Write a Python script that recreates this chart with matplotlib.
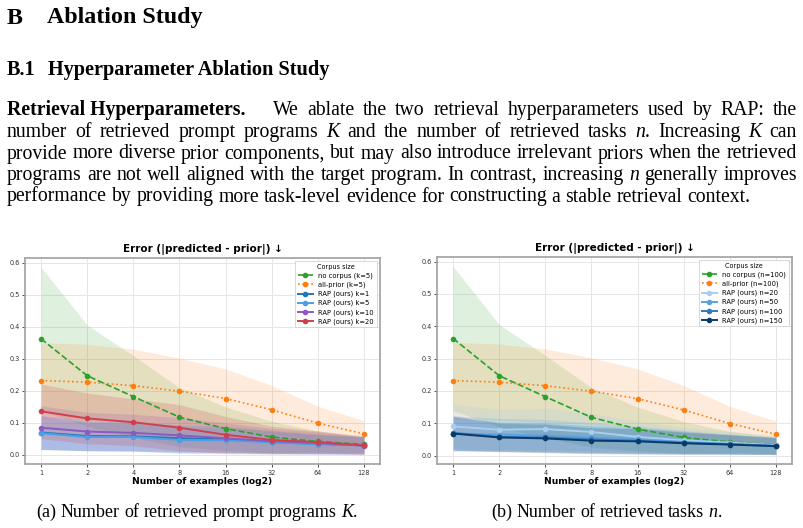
import re
import numpy as np
import matplotlib
matplotlib.use("Agg")
import matplotlib.pyplot as plt

# ---------------- data ----------------
examples = [1, 2, 4, 8, 16, 32, 64, 128]

nocorpus_mean = [0.362, 0.247, 0.182, 0.118, 0.082, 0.056, 0.042, 0.033]
nocorpus_std = [0.223, 0.158, 0.128, 0.092, 0.068, 0.049, 0.033, 0.027]
allprior_mean = [0.232, 0.227, 0.216, 0.199, 0.176, 0.141, 0.099, 0.066]
allprior_std = [0.118, 0.118, 0.114, 0.103, 0.092, 0.076, 0.053, 0.041]

# (a) K ablation
k_labels = ["RAP (ours) k=1", "RAP (ours) k=5", "RAP (ours) k=10", "RAP (ours) k=20"]
k_means = [
    [0.070, 0.059, 0.058, 0.052, 0.049, 0.041, 0.035, 0.030],
    [0.068, 0.056, 0.056, 0.047, 0.046, 0.039, 0.033, 0.030],
    [0.085, 0.073, 0.069, 0.061, 0.052, 0.043, 0.037, 0.029],
    [0.136, 0.114, 0.102, 0.085, 0.063, 0.047, 0.040, 0.030],
]
k_stds = [
    [0.053, 0.045, 0.045, 0.042, 0.040, 0.035, 0.030, 0.027],
    [0.050, 0.043, 0.043, 0.040, 0.039, 0.034, 0.030, 0.026],
    [0.068, 0.060, 0.058, 0.055, 0.048, 0.040, 0.035, 0.028],
    [0.085, 0.079, 0.073, 0.072, 0.057, 0.043, 0.035, 0.027],
]
k_colors = ["#1f77b4", "#4a9fe6", "#8a5cc0", "#d0404c"]

# (b) n ablation
n_labels = ["RAP (ours) n=20", "RAP (ours) n=50", "RAP (ours) n=100", "RAP (ours) n=150"]
n_means = [
    [0.090, 0.080, 0.082, 0.073, 0.058, 0.047, 0.040, 0.032],
    [0.068, 0.065, 0.062, 0.056, 0.050, 0.042, 0.036, 0.030],
    [0.070, 0.058, 0.056, 0.050, 0.046, 0.040, 0.035, 0.030],
    [0.068, 0.056, 0.053, 0.046, 0.044, 0.038, 0.034, 0.029],
]
n_stds = [
    [0.068, 0.062, 0.064, 0.058, 0.048, 0.040, 0.035, 0.027],
    [0.055, 0.050, 0.050, 0.046, 0.042, 0.036, 0.031, 0.026],
    [0.053, 0.045, 0.045, 0.042, 0.040, 0.035, 0.030, 0.027],
    [0.052, 0.044, 0.044, 0.040, 0.039, 0.034, 0.030, 0.026],
]
n_colors = ["#a6cff0", "#5aa2e4", "#3479b8", "#0c3a68"]

# ---------------- figure ----------------
W, H = 804, 528
fig = plt.figure(figsize=(W / 100, H / 100), dpi=100)
fig.canvas.draw()
renderer = fig.canvas.get_renderer()
SERIF = "Liberation Serif"


def fx(x):
    return x / W


def fy(y):
    return 1 - y / H


def seg_text(x, y, s, size, style):
    weight = "bold" if style == "b" else "normal"
    fst = "italic" if style == "i" else "normal"
    t = fig.text(fx(x), fy(y), s, fontfamily=SERIF, fontsize=size,
                 fontweight=weight, fontstyle=fst, va="baseline", ha="left")
    return t


def width_of(t):
    return t.get_window_extent(renderer).width


def parse_word(word):
    segs = []
    for part in re.split(r"(\*\*.+?\*\*|\*.+?\*)", word):
        if not part:
            continue
        if part.startswith("**"):
            segs.append((part[2:-2], "b"))
        elif part.startswith("*"):
            segs.append((part[1:-1], "i"))
        else:
            segs.append((part, "r"))
    return segs


def draw_word(x, y, word, size):
    texts = []
    cx = x
    for s, st in parse_word(word):
        t = seg_text(cx, y, s, size, st)
        w = width_of(t)
        texts.append((t, cx))
        cx += w
    return texts, cx - x


def draw_line(words, x0, x1, y, size, justify=True):
    placed = []
    widths = []
    for w in words:
        texts, wd = draw_word(0, y, w, size)
        placed.append(texts)
        widths.append(wd)
    if justify and len(words) > 1:
        gap = (x1 - x0 - sum(widths)) / (len(words) - 1)
    else:
        gap = size * 1.389 * 0.25
    cx = x0
    for texts, wd in zip(placed, widths):
        for t, off in texts:
            t.set_x(fx(cx + off))
        cx += wd + gap


# headings
fig.text(fx(7), fy(23.5), "B", fontfamily=SERIF, fontsize=17.3, fontweight="bold", va="baseline")
fig.text(fx(46.7), fy(23.5), "Ablation Study", fontfamily=SERIF, fontsize=17.3, fontweight="bold", va="baseline")
fig.text(fx(7), fy(75), "B.1", fontfamily=SERIF, fontsize=14.6, fontweight="bold", va="baseline")
fig.text(fx(48), fy(75), "Hyperparameter Ablation Study", fontfamily=SERIF, fontsize=14.6, fontweight="bold", va="baseline")

PS = 14.2
L, R = 7, 797
para_lines = [
    "We ablate the two retrieval hyperparameters used by RAP: the",
    "number of retrieved prompt programs *K* and the number of retrieved tasks *n*. Increasing *K* can",
    "provide more diverse prior components, but may also introduce irrelevant priors when the retrieved",
    "programs are not well aligned with the target program. In contrast, increasing *n* generally improves",
    "performance by providing more task-level evidence for constructing a stable retrieval context.",
]
baselines = [115, 137, 158.5, 180, 201.5]
seg_text(L, baselines[0], "Retrieval Hyperparameters.", PS, "b")
draw_line(para_lines[0].split(" "), 273, R, baselines[0], PS)
for i in range(1, 4):
    draw_line(para_lines[i].split(" "), L, R, baselines[i], PS)
draw_line(para_lines[4].split(" "), L, R, baselines[4], PS, justify=False)

# captions
CS = 13.0
draw_line("(a) Number of retrieved prompt programs *K*.".split(" "), 36, 0, 517, CS, justify=False)
draw_line("(b) Number of retrieved tasks *n*.".split(" "), 491, 0, 517, CS, justify=False)


# ---------------- plots ----------------
def make_panel(rect, tag, labels, means, stds, colors):
    ax = fig.add_axes(rect)
    x = np.array(examples)
    m = np.array(nocorpus_mean); s = np.array(nocorpus_std)
    ax.fill_between(x, m - s, m + s, color="#2ca02c", alpha=0.15, lw=0)
    ax.plot(x, m, "--", color="#2ca02c", marker="o", ms=3, lw=1.2,
            label=f"no corpus ({tag})")
    m = np.array(allprior_mean); s = np.array(allprior_std)
    ax.fill_between(x, m - s, m + s, color="#ff7f0e", alpha=0.15, lw=0)
    ax.plot(x, m, ":", color="#ff7f0e", marker="o", ms=3, lw=1.2,
            label=f"all-prior ({tag})")
    for lab, mm, ss, c in zip(labels, means, stds, colors):
        mm = np.array(mm); ss = np.array(ss)
        ax.fill_between(x, np.clip(mm - ss, 0, None), mm + ss, color=c, alpha=0.2, lw=0)
        ax.plot(x, mm, "-", color=c, marker="o", ms=3, lw=1.4, label=lab)
    ax.set_xscale("log", base=2)
    ax.set_xticks(x)
    ax.set_xticklabels([str(v) for v in x])
    ax.minorticks_off()
    ax.set_yticks([0.0, 0.1, 0.2, 0.3, 0.4, 0.5, 0.6])
    ax.tick_params(labelsize=4.7, length=2, width=0.6, colors="#333333", pad=2)
    ax.grid(True, color="#e6e6e6", lw=0.7)
    ax.set_axisbelow(True)
    for sp in ax.spines.values():
        sp.set_color("#a0a0a0")
        sp.set_linewidth(1.2)
    ax.set_title("Error (|predicted - prior|) ↓", fontsize=7.5, fontweight="bold", pad=4.5)
    ax.set_xlabel("Number of examples (log2)", fontsize=6.6, fontweight="bold", labelpad=1)
    leg = ax.legend(title="Corpus size", fontsize=4.9, title_fontsize=4.7, loc="upper right",
                    framealpha=0.9, edgecolor="#cccccc", fancybox=False,
                    handlelength=2.2, borderpad=0.4, labelspacing=0.38)
    leg.get_frame().set_linewidth(0.6)
    return ax


make_panel([fx(25), fy(464), 355 / W, 206 / H], "k=5", k_labels, k_means, k_stds, k_colors)
make_panel([fx(437), fy(464), 355 / W, 207 / H], "n=100", n_labels, n_means, n_stds, n_colors)

fig.savefig("out.png", dpi=100)
